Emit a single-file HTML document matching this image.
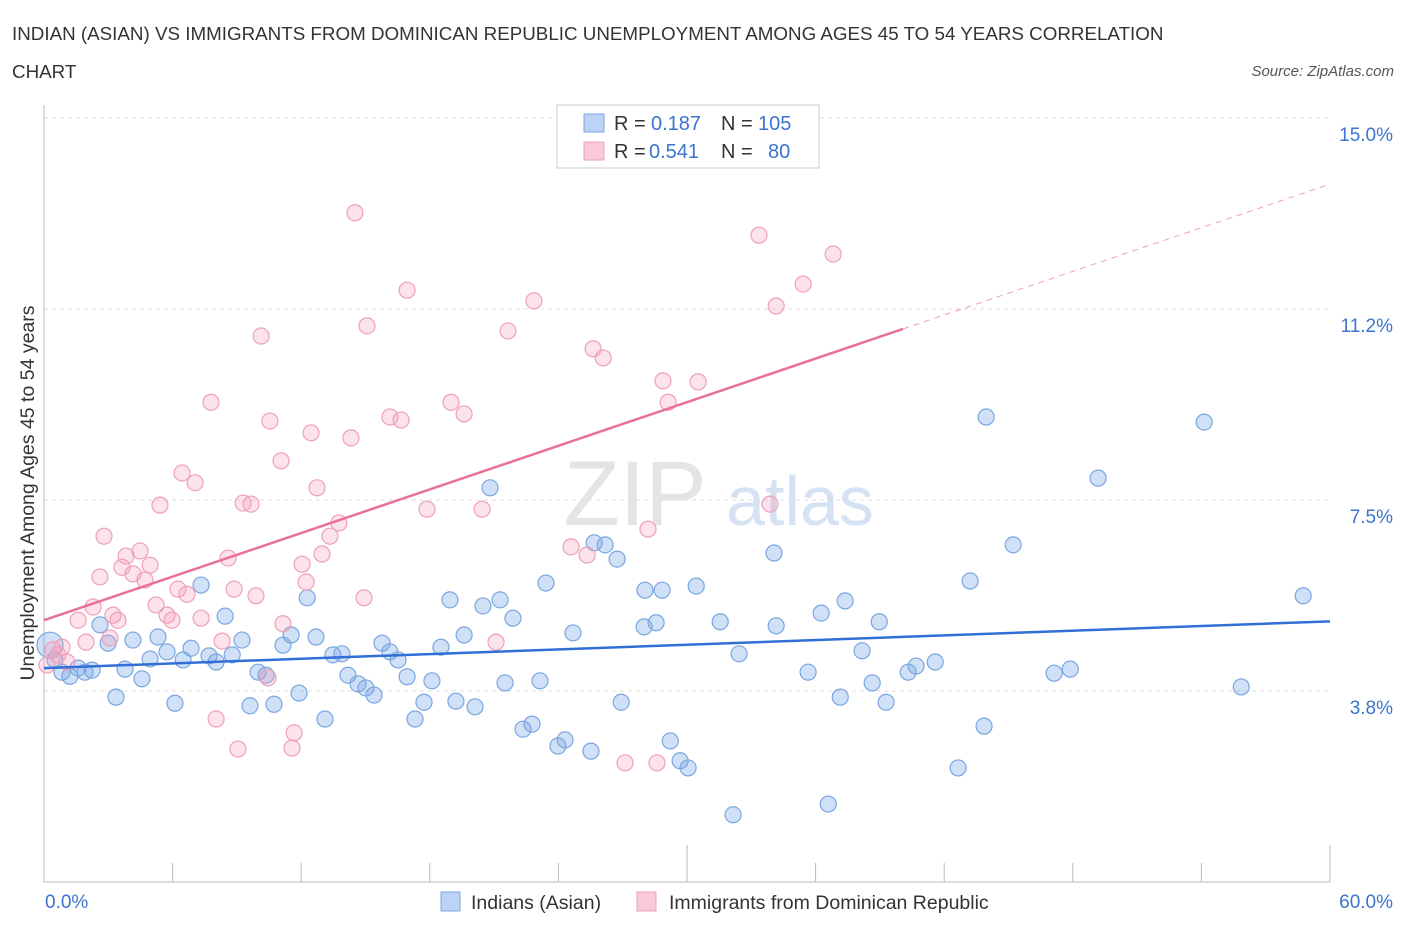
<!DOCTYPE html>
<html><head><meta charset="utf-8"><style>
body{margin:0;background:#fff;font-family:"Liberation Sans",sans-serif;}
svg text{font-family:"Liberation Sans",sans-serif;}
</style></head><body>
<svg width="1406" height="930" xmlns="http://www.w3.org/2000/svg">
<text x="12" y="40" font-size="18.8" fill="#333">INDIAN (ASIAN) VS IMMIGRANTS FROM DOMINICAN REPUBLIC UNEMPLOYMENT AMONG AGES 45 TO 54 YEARS CORRELATION</text>
<text x="12" y="78" font-size="18.8" fill="#333">CHART</text>
<text x="1394" y="76" font-size="15" fill="#555" font-style="italic" text-anchor="end">Source: ZipAtlas.com</text>
<text x="635" y="525" font-size="92" fill="#e4e4e4" font-family="Liberation Serif" text-anchor="middle">ZIP</text>
<text x="800" y="525" font-size="70" fill="#d5e2f3" text-anchor="middle">atlas</text>
<g id="grid"></g>
<g id="axes"></g>
<g id="pts"></g>
<g id="lines"></g>
<text x="34" y="493" font-size="19.5" fill="#333" text-anchor="middle" transform="rotate(-90 34 493)">Unemployment Among Ages 45 to 54 years</text>
<text x="45" y="908" font-size="19" fill="#3b74d1">0.0%</text>
<text x="1393" y="908" font-size="19" fill="#3b74d1" text-anchor="end">60.0%</text>
<g>
<rect x="557" y="105" width="262" height="63" fill="#fff" stroke="#ccc"/>
<rect x="584" y="114" width="20" height="18" fill="#bcd3f5" stroke="#7aa6e0"/>
<rect x="584" y="142" width="20" height="18" fill="#f8c9d8" stroke="#eea0b8"/>
<text x="614" y="130" font-size="20" fill="#333">R =</text>
<text x="651" y="130" font-size="20" fill="#3b74d1">0.187</text>
<text x="721" y="130" font-size="20" fill="#333">N =</text>
<text x="758" y="130" font-size="20" fill="#3b74d1">105</text>
<text x="614" y="158" font-size="20" fill="#333">R =</text>
<text x="649" y="158" font-size="20" fill="#3b74d1">0.541</text>
<text x="721" y="158" font-size="20" fill="#333">N =</text>
<text x="768" y="158" font-size="20" fill="#3b74d1">80</text>
</g>
<g>
<rect x="441" y="892" width="19" height="19" fill="#bcd3f5" stroke="#7aa6e0"/>
<text x="471" y="909" font-size="19.5" fill="#333">Indians (Asian)</text>
<rect x="637" y="892" width="19" height="19" fill="#f8c9d8" stroke="#eea0b8"/>
<text x="669" y="909" font-size="19.5" fill="#333">Immigrants from Dominican Republic</text>
</g>
</svg>
<script>
const yTicks=[3.75,7.5,11.25,15];
const yTickLabels=["3.8%","7.5%","11.2%","15.0%"];
const xTicks=[0,6,12,18,24,30,36,42,48,54,60];
const blueX=[0.28,0.51,0.84,1.21,1.59,1.91,2.24,2.61,2.99,3.36,3.78,4.15,4.57,4.95,5.32,5.74,6.11,6.49,6.86,7.33,7.70,8.03,8.45,8.78,9.24,9.61,9.99,10.36,10.73,11.15,11.53,11.90,12.28,12.69,13.11,13.48,13.90,14.18,14.65,15.02,15.40,15.77,16.14,16.52,16.94,17.31,17.73,18.10,18.52,18.94,19.22,19.60,20.11,20.48,20.81,21.28,21.51,21.88,22.35,22.77,23.14,23.42,23.98,24.31,24.68,25.52,25.67,26.18,26.74,26.93,28.00,28.04,28.56,28.84,29.22,29.68,30.05,30.43,31.55,32.15,32.43,34.06,34.16,35.65,36.26,36.59,37.15,37.38,38.17,38.64,38.97,39.29,40.32,40.69,41.58,42.65,43.21,43.86,43.96,45.22,47.13,47.88,49.18,54.13,55.86,58.75];
const blueY=[4.65,4.36,4.12,4.04,4.20,4.12,4.16,5.05,4.69,3.63,4.18,4.75,3.99,4.38,4.81,4.52,3.51,4.36,4.59,5.83,4.44,4.32,5.22,4.46,4.75,3.46,4.12,4.06,3.49,4.65,4.85,3.71,5.58,4.81,3.20,4.46,4.48,4.06,3.89,3.81,3.67,4.69,4.52,4.36,4.03,3.20,3.53,3.95,4.61,5.54,3.55,4.85,3.44,5.42,7.74,5.54,3.91,5.18,3.00,3.10,3.95,5.87,2.67,2.79,4.89,2.57,6.66,6.62,6.34,3.53,5.01,5.73,5.09,5.73,2.77,2.38,2.24,5.81,5.11,1.32,4.48,6.46,5.03,4.12,5.28,1.53,3.63,5.52,4.54,3.91,5.11,3.53,4.12,4.24,4.32,2.24,5.91,3.06,9.13,6.62,4.10,4.18,7.93,9.03,3.83,5.62];
const pinkX=[0.14,0.42,0.65,0.84,1.07,1.59,1.96,2.29,2.61,2.80,3.08,3.22,3.45,3.64,3.83,4.15,4.48,4.71,4.95,5.23,5.41,5.74,5.97,6.25,6.44,6.67,7.05,7.33,7.79,8.03,8.31,8.59,8.87,9.05,9.29,9.66,9.89,10.13,10.45,10.54,11.06,11.15,11.57,11.67,12.04,12.23,12.46,12.74,12.97,13.34,13.76,14.32,14.51,14.93,15.07,16.14,16.66,16.94,17.87,18.99,19.60,20.44,21.09,21.65,22.86,24.59,25.34,25.62,26.09,27.11,28.18,28.60,28.88,29.12,30.52,33.36,33.87,34.16,35.42,36.82];
const pinkY=[4.26,4.56,4.46,4.61,4.32,5.14,4.71,5.40,5.99,6.79,4.79,5.24,5.14,6.18,6.40,6.05,6.50,5.93,6.22,5.44,7.40,5.24,5.14,5.75,8.03,5.65,7.84,5.18,9.42,3.20,4.73,6.36,5.75,2.61,7.44,7.42,5.62,10.72,4.01,9.05,8.27,5.07,2.63,2.93,6.24,5.89,8.82,7.74,6.44,6.79,7.05,8.72,13.14,5.58,10.92,9.13,9.07,11.62,7.32,9.42,9.19,7.32,4.71,10.82,11.41,6.58,6.42,10.47,10.29,2.34,6.93,2.34,9.84,9.42,9.82,12.70,7.42,11.31,11.74,12.33];
const blueLine=[4.20,0.0153];
const pinkLine=[5.14,0.1427];
const pinkSolidEnd=40.08;

const NS="http://www.w3.org/2000/svg";
const X=v=>44+v/60*1286, Y=v=>882-v*50.93;
function mk(t,a,p){const e=document.createElementNS(NS,t);for(const k in a)e.setAttribute(k,a[k]);p.appendChild(e);return e;}
const grid=document.getElementById('grid'),axes=document.getElementById('axes'),pts=document.getElementById('pts'),lines=document.getElementById('lines');
yTicks.forEach((v,i)=>{
 const l=mk('line',{x1:44,x2:1330,y1:Y(v),y2:Y(v),stroke:'#ddd','stroke-dasharray':'4,4'},grid);
 
 
 const t=mk('text',{x:1393,y:Y(v)+23,'font-size':19,fill:'#3b74d1','text-anchor':'end'},grid);
 t.textContent=yTickLabels[i];
 
 
});
const ax=mk('line',{x1:44,x2:44,y1:105,y2:882,stroke:'#bbb'},axes);


const bx=mk('line',{x1:44,x2:1330,y1:882,y2:882,stroke:'#bbb'},axes);


xTicks.forEach(v=>{
 const t=mk('line',{x1:X(v),x2:X(v),y1:882,y2:(v%30===0?845:863),stroke:'#bbb'},axes);
 
 
});
blueX.forEach((v,i)=>{
 const c=mk('circle',{cx:X(v),cy:Y(blueY[i]),r:i===0?13:8,fill:'rgba(120,165,230,0.35)',stroke:'#7aa6e0','stroke-width':1.2},pts);
 
 
});
pinkX.forEach((v,i)=>{
 const c=mk('circle',{cx:X(v),cy:Y(pinkY[i]),r:8,fill:'rgba(245,160,190,0.3)',stroke:'#eea0b8','stroke-width':1.2},pts);
 
 
});
const bl=mk('line',{x1:X(0),y1:Y(blueLine[0]),x2:X(60),y2:Y(blueLine[0]+blueLine[1]*60),stroke:'#2f6fd6','stroke-width':2.5},lines);


const pl=mk('line',{x1:X(0),y1:Y(pinkLine[0]),x2:X(pinkSolidEnd),y2:Y(pinkLine[0]+pinkLine[1]*pinkSolidEnd),stroke:'#e8709a','stroke-width':2.5},lines);


const pd=mk('line',{x1:X(pinkSolidEnd),y1:Y(pinkLine[0]+pinkLine[1]*pinkSolidEnd),x2:X(60),y2:Y(pinkLine[0]+pinkLine[1]*60),stroke:'#eea0b8','stroke-width':1,'stroke-dasharray':'6,5'},lines);


</script>
</body></html>
